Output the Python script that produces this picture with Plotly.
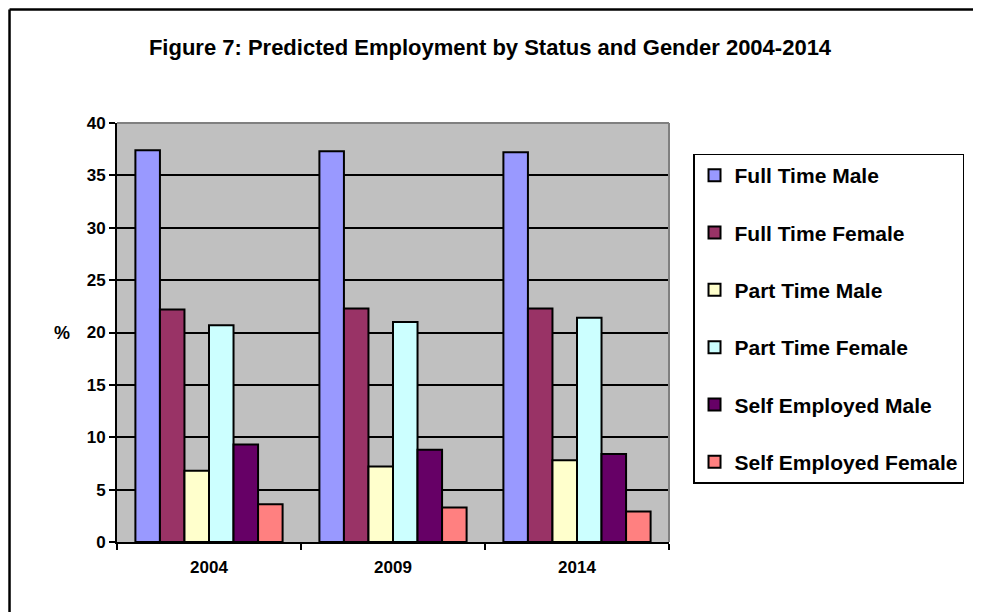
import plotly.graph_objects as go

# data
years = ["2004", "2009", "2014"]
seriesNames = ["Full Time Male", "Full Time Female", "Part Time Male",
               "Part Time Female", "Self Employed Male", "Self Employed Female"]
fullTimeMale = [37.4, 37.3, 37.2]
fullTimeFemale = [22.2, 22.3, 22.3]
partTimeMale = [6.8, 7.2, 7.8]
partTimeFemale = [20.7, 21.0, 21.4]
selfEmployedMale = [9.3, 8.8, 8.4]
selfEmployedFemale = [3.6, 3.3, 2.9]
yTicks = [0, 5, 10, 15, 20, 25, 30, 35, 40]

seriesValues = [fullTimeMale, fullTimeFemale, partTimeMale,
                partTimeFemale, selfEmployedMale, selfEmployedFemale]
colours = ["#9999FF", "#993366", "#FFFFCC", "#CCFFFF", "#660066", "#FF8080"]

font = "Liberation Sans, Arial, sans-serif"

fig = go.Figure()
for i in range(len(seriesNames)):
    fig.add_trace(go.Bar(x=years, y=seriesValues[i], name=seriesNames[i],
                         legendgroup=str(i),
                         marker=dict(color=colours[i], line=dict(color="black", width=2))))

# page body has an 8px margin, so the margins are shifted to compensate
fig.update_layout(
    width=981, height=612,
    margin=dict(l=109, r=320, t=115, b=78),
    paper_bgcolor="white", plot_bgcolor="#C0C0C0",
    barmode="group", bargap=0.2, bargroupgap=0,
    font=dict(family=font, color="black", size=16, weight="bold"),
    title=dict(text="Figure 7: Predicted Employment by Status and Gender 2004-2014",
               x=482 / 981, xref="container", xanchor="center", y=1 - 39 / 612, yanchor="middle",
               font=dict(size=22, weight="bold")),
    showlegend=True,
    legend=dict(x=1.0435, xanchor="left", y=0.927, yanchor="top",
                bordercolor="black", borderwidth=1.5, bgcolor="white",
                font=dict(size=21, family=font, weight="bold"), tracegroupgap=27,
                itemwidth=30),
    xaxis=dict(showline=True, linecolor="black", linewidth=2, ticks="outside",
               tickson="boundaries", ticklen=6, tickwidth=2, tickcolor="black",
               tickfont=dict(size=17, weight="bold"), mirror=False, showgrid=False,
               ticklabelstandoff=9),
    yaxis=dict(range=[0, 40], tickvals=yTicks, showline=True, linecolor="black", linewidth=2,
               ticks="outside", ticklen=6, tickwidth=2, tickcolor="black",
               showgrid=True, gridcolor="black", gridwidth=2, zeroline=False,
               tickfont=dict(size=17, weight="bold"), ticklabelstandoff=0),
)

# "%" axis label
fig.add_annotation(text="%", xref="paper", yref="paper", x=-0.0996, y=0.5,
                   xanchor="center", showarrow=False, font=dict(size=18, weight="bold"))

# grey frame on top/right of plot area
fig.add_shape(type="line", xref="paper", yref="paper", x0=0, x1=1, y0=1, y1=1,
              line=dict(color="#808080", width=2))
fig.add_shape(type="line", xref="paper", yref="paper", x0=1, x1=1, y0=0, y1=1,
              line=dict(color="#808080", width=2))

# outer chart border (top and left visible)
fig.add_shape(type="line", xref="paper", yref="paper", x0=-0.1947, x1=1.6, y0=1.2709, y1=1.2709,
              line=dict(color="black", width=2.5))
fig.add_shape(type="line", xref="paper", yref="paper", x0=-0.1947, x1=-0.1947, y0=-0.2, y1=1.2709,
              line=dict(color="black", width=2.5))

fig.write_html("out.html")
